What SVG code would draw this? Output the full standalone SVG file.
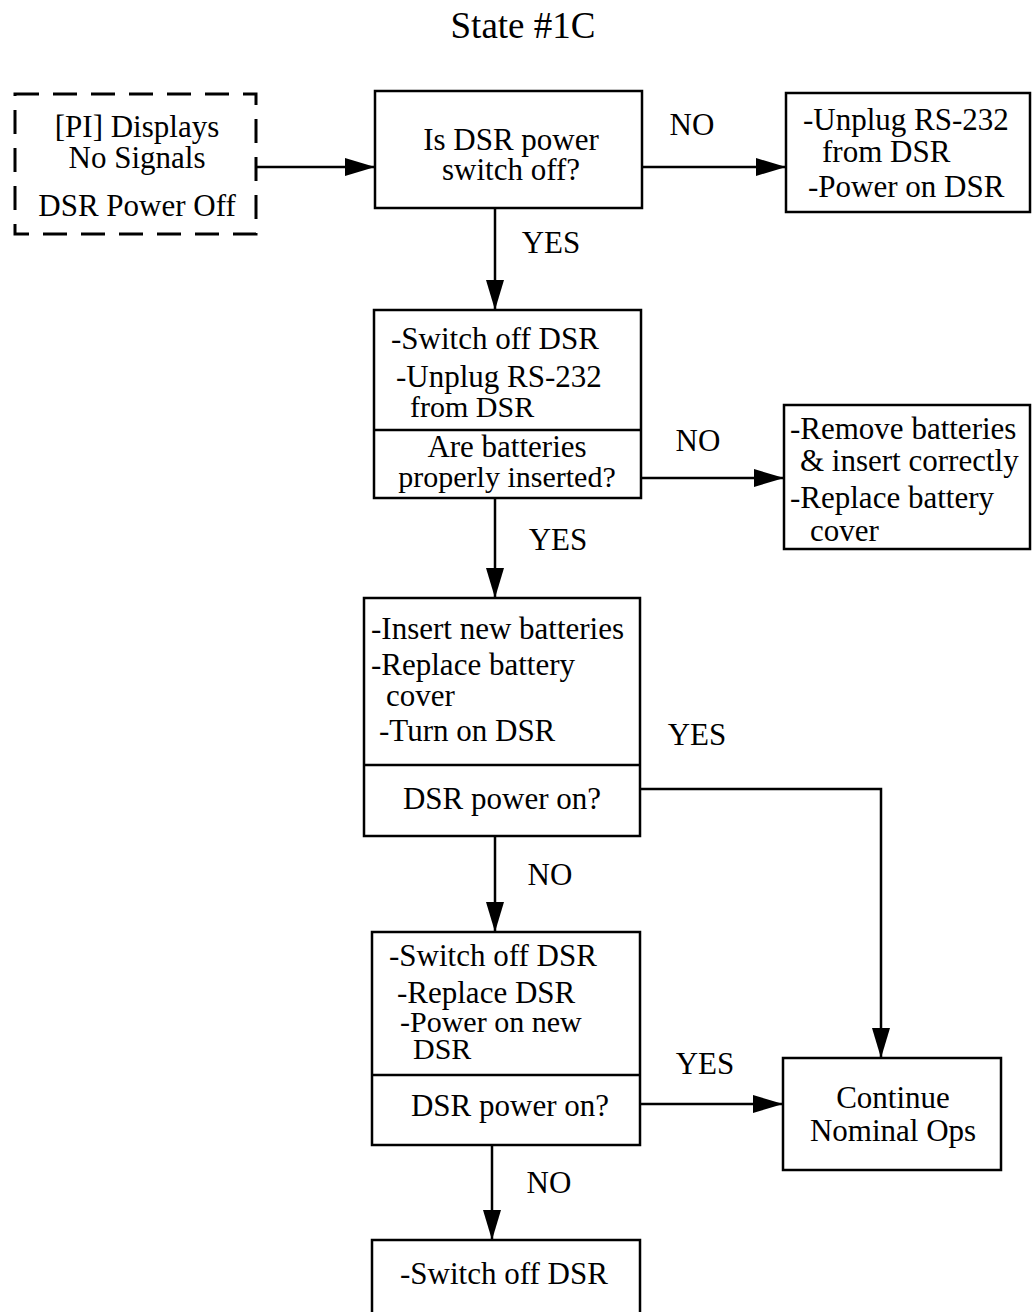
<svg xmlns="http://www.w3.org/2000/svg" width="1034" height="1312" viewBox="0 0 1034 1312">
  <style>
    text { font-family: "Liberation Serif", "Times New Roman", serif; font-size: 31px; fill: #000; }
    .c { text-anchor: middle; }
    .tight { font-size: 30px; }
    .box { fill: none; stroke: #000; stroke-width: 2.5; }
    .dash { fill: none; stroke: #000; stroke-width: 3; stroke-dasharray: 24 14; }
    .ln { fill: none; stroke: #000; stroke-width: 2.5; }
  </style>
  <defs>
    <marker id="arrow" viewBox="0 0 30 18" refX="30" refY="9" markerWidth="30" markerHeight="18" markerUnits="userSpaceOnUse" orient="auto">
      <path d="M0,0 L30,9 L0,18 Z" fill="#000"/>
    </marker>
  </defs>

  <rect width="1034" height="1312" fill="#fff"/>

  <text class="c" x="523" y="38" style="font-size:37px">State #1C</text>

  <g id="start">
    <rect class="dash" x="15" y="94" width="241" height="140"/>
    <text class="c" x="137" y="137">[PI] Displays</text>
    <text class="c" x="137" y="168">No Signals</text>
    <text class="c" x="137" y="216">DSR Power Off</text>
  </g>

  <g id="q-switch">
    <rect class="box" x="375" y="91" width="267" height="117"/>
    <text class="c" x="511" y="150">Is DSR power</text>
    <text class="c" x="511" y="180">switch off?</text>
  </g>

  <g id="unplug">
    <rect class="box" x="786" y="93" width="244" height="119"/>
    <text x="803" y="130">-Unplug RS-232</text>
    <text x="822" y="162">from DSR</text>
    <text x="808" y="197">-Power on DSR</text>
  </g>

  <g id="q-batteries">
    <rect class="box" x="374" y="310" width="267" height="188"/>
    <line class="ln" x1="374" y1="430" x2="641" y2="430"/>
    <text x="391" y="349">-Switch off DSR</text>
    <text x="396" y="387">-Unplug RS-232</text>
    <text class="tight" x="410" y="417">from DSR</text>
    <text class="c" x="507" y="457">Are batteries</text>
    <text class="c tight" x="507" y="487">properly inserted?</text>
  </g>

  <g id="reinsert">
    <rect class="box" x="784" y="405" width="246" height="144"/>
    <text x="790" y="439">-Remove batteries</text>
    <text x="800" y="471">&amp; insert correctly</text>
    <text x="790" y="508">-Replace battery</text>
    <text x="810" y="541">cover</text>
  </g>

  <g id="new-batteries">
    <rect class="box" x="364" y="598" width="276" height="238"/>
    <line class="ln" x1="364" y1="765" x2="640" y2="765"/>
    <text x="371" y="639">-Insert new batteries</text>
    <text x="371" y="675">-Replace battery</text>
    <text x="386" y="706">cover</text>
    <text x="379" y="741">-Turn on DSR</text>
    <text class="c" x="502" y="809">DSR power on?</text>
  </g>

  <g id="replace-dsr">
    <rect class="box" x="372" y="932" width="268" height="213"/>
    <line class="ln" x1="372" y1="1075" x2="640" y2="1075"/>
    <text x="389" y="966">-Switch off DSR</text>
    <text x="397" y="1003">-Replace DSR</text>
    <text class="tight" x="400" y="1032">-Power on new</text>
    <text class="tight" x="413" y="1059">DSR</text>
    <text class="c" x="510" y="1116">DSR power on?</text>
  </g>

  <g id="nominal">
    <rect class="box" x="783" y="1058" width="218" height="112"/>
    <text class="c" x="893" y="1108">Continue</text>
    <text class="c" x="893" y="1141">Nominal Ops</text>
  </g>

  <g id="final">
    <rect class="box" x="372" y="1240" width="268" height="90"/>
    <text x="400" y="1284">-Switch off DSR</text>
  </g>

  <g id="connectors">
    <line class="ln" x1="256" y1="167" x2="375" y2="167" marker-end="url(#arrow)"/>
    <line class="ln" x1="642" y1="167" x2="786" y2="167" marker-end="url(#arrow)"/>
    <text class="c" x="692" y="135">NO</text>

    <line class="ln" x1="495" y1="208" x2="495" y2="310" marker-end="url(#arrow)"/>
    <text class="c" x="551" y="253">YES</text>

    <line class="ln" x1="641" y1="478" x2="784" y2="478" marker-end="url(#arrow)"/>
    <text class="c" x="698" y="451">NO</text>

    <line class="ln" x1="495" y1="498" x2="495" y2="598" marker-end="url(#arrow)"/>
    <text class="c" x="558" y="550">YES</text>

    <polyline class="ln" points="640,789 881,789 881,1058" marker-end="url(#arrow)"/>
    <text class="c" x="697" y="745">YES</text>

    <line class="ln" x1="495" y1="836" x2="495" y2="932" marker-end="url(#arrow)"/>
    <text class="c" x="550" y="885">NO</text>

    <line class="ln" x1="640" y1="1104" x2="783" y2="1104" marker-end="url(#arrow)"/>
    <text class="c" x="705" y="1074">YES</text>

    <line class="ln" x1="492" y1="1145" x2="492" y2="1240" marker-end="url(#arrow)"/>
    <text class="c" x="549" y="1193">NO</text>
  </g>
</svg>
